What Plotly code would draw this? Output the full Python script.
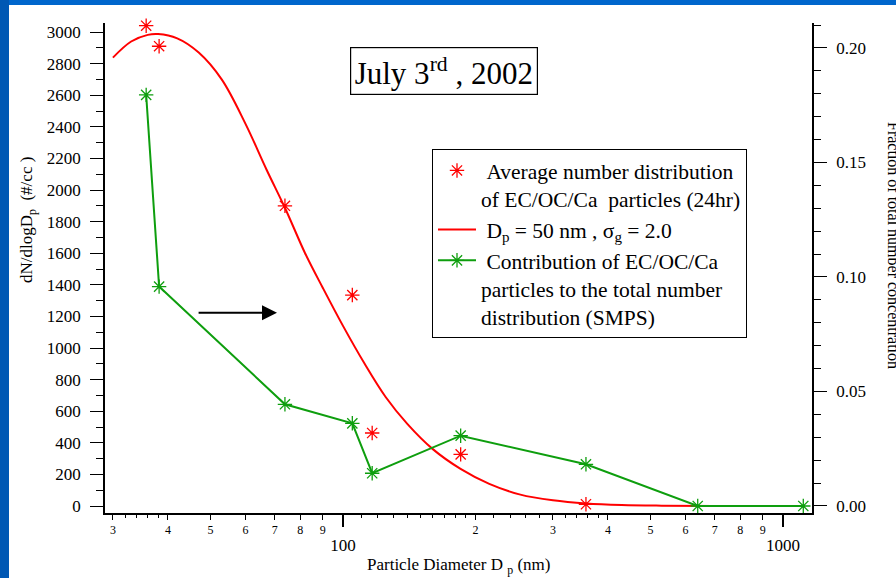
import math
import plotly.graph_objects as go

# ---- data -------------------------------------------------------------
# Average number distribution of EC/OC/Ca particles (24 hr), dN/dlogDp (#/cc)
diam_ecoc = [35.7, 38.2, 73.8, 105.0, 116.5, 185.1, 356.6]
dndlogdp_ecoc = [3040, 2910, 1900, 1335, 462, 327, 11]

# Log-normal fit (Dp = 50 nm, sigma_g = 2.0)
fit_diam = [30, 33, 36, 38, 42, 47, 53, 60, 67, 74, 82, 90, 100, 112, 125,
            140, 160, 185, 215, 253, 300, 357, 430, 530, 700, 1112]
fit_dndlogdp = [2838, 2940, 2982, 2987, 2960, 2870, 2700, 2420, 2130, 1880,
                1600, 1380, 1140, 900, 690, 520, 360, 235, 140, 72, 36, 16,
                6, 2, 0.3, 0]

# Contribution of EC/OC/Ca particles to the total number distribution (SMPS)
diam_frac = [35.7, 38.2, 73.8, 105.0, 116.5, 185.1, 356.6, 640, 1112]
fraction = [0.1795, 0.0958, 0.0444, 0.0361, 0.0143, 0.0307, 0.0182, 0.0, 0.0]

# Axis ticks
minor_labeled = [30, 40, 50, 60, 70, 80, 90, 200, 300, 400, 500, 600, 700, 800, 900]
minor_labels = ["3", "4", "5", "6", "7", "8", "9", "2", "3", "4", "5", "6", "7", "8", "9"]
small_ticks = [32, 34, 36, 38, 110, 120, 130, 140, 150, 160, 170, 180, 190,
               220, 240, 260, 280, 320, 340, 360, 380]
decade_ticks = [100, 1000]
decade_labels = ["100", "1000"]
left_ticks = list(range(0, 3001, 200))
right_ticks = [0.0, 0.05, 0.10, 0.15, 0.20]

# ---- layout geometry (pixels) -----------------------------------------
W, H = 896, 578
ML, MR, MT, MB = 105, 84, 23, 65
PW, PH = W - ML - MR, H - MT - MB


def px(xp):
    return (xp - ML) / PW


def py(yp):
    return (H - MB - yp) / PH


FONT = "Liberation Serif, Times New Roman, serif"
RED = "#FF0000"
GREEN = "#0E9E0E"

fig = go.Figure()

fig.add_trace(go.Scatter(
    x=diam_ecoc, y=dndlogdp_ecoc, mode="markers", cliponaxis=False,
    name="\u00a0Average number distribution<br>of EC/OC/Ca\u00a0 particles (24hr)",
    marker=dict(symbol="asterisk-open", size=12, color=RED,
                line=dict(color=RED, width=1.3)),
    xaxis="x", yaxis="y",
))
fig.add_trace(go.Scatter(
    x=fit_diam, y=fit_dndlogdp, mode="lines", line_shape="spline",
    name="\u00a0D<sub>p</sub> = 50 nm , \u03c3<sub>g</sub> = 2.0",
    line=dict(color=RED, width=2),
    xaxis="x", yaxis="y",
))
fig.add_trace(go.Scatter(
    x=diam_frac, y=fraction, mode="lines+markers", cliponaxis=False,
    name="\u00a0Contribution of EC/OC/Ca<br>particles to the total number<br>distribution (SMPS)",
    line=dict(color=GREEN, width=2),
    marker=dict(symbol="asterisk-open", size=12, color=GREEN,
                line=dict(color=GREEN, width=1.3)),
    xaxis="x2", yaxis="y2",
))

xrange = [2 - 238 / 440, 3 + 29 / 440]

common_axis = dict(showgrid=False, zeroline=False, linecolor="black",
                   tickcolor="black", ticks="outside")

fig.update_layout(
    width=W, height=H, autosize=False,
    margin=dict(l=ML, r=MR, t=MT, b=MB, pad=0),
    paper_bgcolor="white", plot_bgcolor="white",
    font=dict(family=FONT, color="black", size=17),
    showlegend=True,
    legend=dict(
        x=px(432), y=py(149), xanchor="left", yanchor="top",
        bgcolor="white", bordercolor="black", borderwidth=1,
        font=dict(family=FONT, size=21.5, color="black"),
        valign="top", tracegroupgap=0, itemwidth=38,
    ),
    xaxis=dict(
        common_axis, type="log", range=xrange, showline=True, linewidth=1.5,
        tickmode="array", tickvals=minor_labeled, ticktext=minor_labels,
        ticklen=5, tickwidth=1.2, tickfont=dict(size=12),
        minor=dict(tickmode="array", tickvals=small_ticks, ticks="outside",
                   ticklen=3, tickwidth=1.2, tickcolor="black"),
        anchor="y",
    ),
    xaxis2=dict(
        common_axis, type="log", range=xrange, overlaying="x", anchor="y2",
        side="bottom", showline=False,
        tickmode="array", tickvals=decade_ticks, ticktext=decade_labels,
        ticklen=13, tickwidth=1.5, tickfont=dict(size=17),
        ticklabelstandoff=4,
    ),
    yaxis=dict(
        common_axis, range=[-44.3, 3057], showline=True, linewidth=1.5,
        tickmode="array", tickvals=left_ticks, ticklen=13, tickwidth=1.2,
        tickfont=dict(size=17), ticklabelstandoff=6,
        minor=dict(dtick=100, tick0=0, ticks="outside", ticklen=7,
                   tickwidth=1.2, tickcolor="black"),
        anchor="x",
    ),
    yaxis2=dict(
        common_axis, range=[-0.00306, 0.2109], overlaying="y", side="right",
        anchor="x2", showline=True, linewidth=1.5,
        tickmode="array", tickvals=right_ticks, tickformat=".2f",
        ticklen=13, tickwidth=1.2, tickfont=dict(size=17), ticklabelstandoff=6,
        minor=dict(dtick=0.01, tick0=0, ticks="outside", ticklen=7,
                   tickwidth=1.2, tickcolor="black"),
    ),
)

# Blue slide frame along the top and left edges
fig.add_shape(type="rect", xref="paper", yref="paper", layer="below",
              x0=px(0), x1=px(W), y0=py(5), y1=py(0),
              fillcolor="#0066CC", line=dict(width=0))
fig.add_shape(type="rect", xref="paper", yref="paper", layer="below",
              x0=px(0), x1=px(9), y0=py(H), y1=py(0),
              fillcolor="#0058B4", line=dict(width=0))

# Date box
fig.add_annotation(
    xref="paper", yref="paper", x=px(444), y=py(70.5),
    xanchor="center", yanchor="middle",
    text="July 3<sup>rd</sup> , 2002", showarrow=False,
    font=dict(family=FONT, size=31, color="black"),
    bgcolor="white", bordercolor="black", borderwidth=1.2, borderpad=3.5,
)

# Arrow pointing to the right-hand axis
fig.add_annotation(
    xref="x", yref="y", axref="x", ayref="y",
    x=math.log10(70.8), y=1223, ax=math.log10(46.6), ay=1223,
    text="", showarrow=True, arrowhead=2, arrowsize=1.5, arrowwidth=2,
    arrowcolor="black",
)

# Axis titles
fig.add_annotation(
    xref="paper", yref="paper", x=px(458), y=py(566),
    xanchor="center", yanchor="middle",
    text="Particle Diameter D <sub>p</sub> (nm)", showarrow=False,
    font=dict(family=FONT, size=17, color="black"),
)
fig.add_annotation(
    xref="paper", yref="paper", x=px(28), y=py(220),
    xanchor="center", yanchor="middle", textangle=-90,
    text="dN/dlogD<sub>p</sub>\u00a0 (#/cc )", showarrow=False,
    font=dict(family=FONT, size=17, color="black"),
)
fig.add_annotation(
    xref="paper", yref="paper", x=px(894), y=py(245),
    xanchor="center", yanchor="middle", textangle=90,
    text="Fraction of total number concentration", showarrow=False,
    font=dict(family=FONT, size=16, color="black"),
)

fig.write_html("out.html")
